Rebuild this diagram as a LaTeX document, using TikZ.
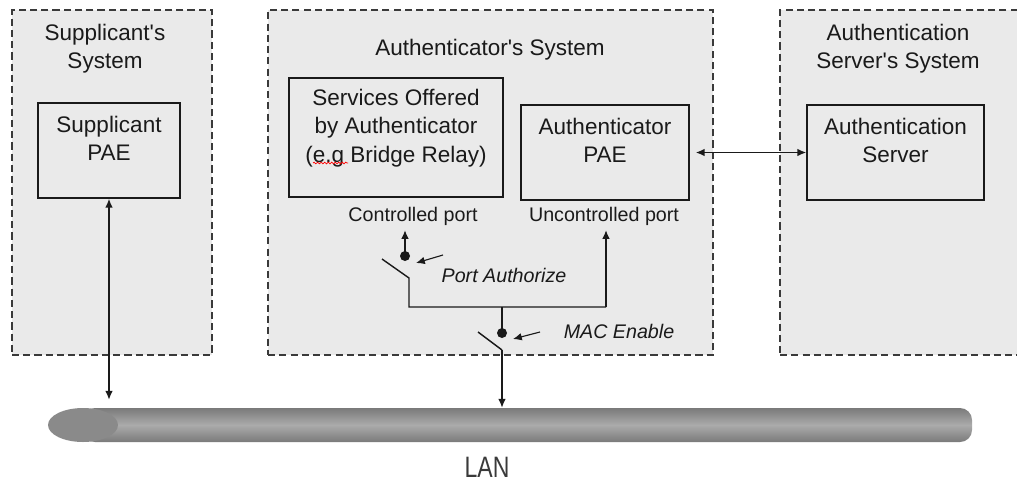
\documentclass[tikz,border=0pt]{standalone}
\usepackage{fontspec}
\setmainfont{Liberation Sans}[Ligatures=TeXOff]
\usetikzlibrary{arrows.meta,positioning,fit,decorations.pathmorphing}
\definecolor{sysfill}{HTML}{EAEAEA}
\definecolor{ink}{HTML}{1A1A1A}
\definecolor{dashgray}{HTML}{3A3A3A}
\definecolor{lanmid}{HTML}{ABABAB}
\definecolor{lanedge}{HTML}{7A7A7A}
\definecolor{lancap}{HTML}{8A8A8A}

\begin{document}
\begin{tikzpicture}[
  x=0.025cm, y=-0.025cm,
  system/.style={draw=dashgray,line width=0.8pt,dash pattern=on 5pt off 3pt,
                 fill=sysfill,inner sep=0pt},
  title/.style={align=center,font=\fontsize{16}{20}\selectfont,text=ink},
  pae/.style={draw=ink,line width=1.1pt,fill=sysfill,inner sep=0pt},
  paetext/.style={anchor=north,yshift=-0.35cm,inner sep=0pt,align=center,
                  font=\fontsize{16}{20}\selectfont,text=ink},
  port/.style={font=\fontsize{14}{17}\selectfont,text=ink},
  hint/.style={font=\itshape\fontsize{14}{17}\selectfont,text=ink},
  lanbar/.style={inner sep=0pt,rounded corners=0.3cm,
                 top color=lanedge,bottom color=lanedge,middle color=lanmid},
  wire/.style={line width=1pt,draw=ink},
  arrow/.style={-{Latex[length=2.2mm,width=1.9mm]},line width=1pt,draw=ink},
  twoway/.style={{Latex[length=2.2mm,width=1.9mm]}-{Latex[length=2.2mm,width=1.9mm]},
                 line width=1pt,draw=ink}
]
\useasboundingbox (0,0) rectangle (1017,482);

\node[system,fit={(12,10) (212,355)}] (supsys) {};
\node[system,fit={(268,10) (713,355)}] (authsys) {};
\node[system,fit={(780,10) (1030,355)}] (srvsys) {};

\node[title] (suptitle) at (105,49) {Supplicant's\\System};
\node[title] (authtitle) at (490,50) {Authenticator's System};
\node[title] (srvtitle) at (898,49) {Authentication\\Server's System};

\node[pae,fit={(38,103) (180,198)},label={[paetext]north:Supplicant\\PAE}] (spae) {};
\node[pae,fit={(289,78) (503,197)},
      label={[paetext,yshift=0.05cm]north:Services Offered\\by Authenticator\\(e.g Bridge Relay)}] (svc) {};
\node[pae,fit={(521,105) (689,200)},label={[paetext]north:Authenticator\\PAE}] (apae) {};
\node[pae,fit={(807,105) (984,200)},label={[paetext]north:Authentication\\Server}] (asrv) {};

\draw[red,line width=0.5pt,decorate,decoration={snake,amplitude=0.6pt,segment length=2.5pt}]
  (313,163) -- (348,163);

\node[port] (cport) at (413,216) {Controlled port};
\node[port] (uport) at (604,216) {Uncontrolled port};
\node[hint] (pauth) at (504,275) {Port Authorize};
\node[hint] (macen) at (619,331) {MAC Enable};

\node[lanbar,fit={(83,408) (972,442)}] (lan) {};
\fill[lancap] (83,425) ellipse [x radius=35,y radius=17];
\node[font=\fontsize{21}{24}\selectfont,text=dashgray] (lanlabel) at (487,467) {\scalebox{0.78}[1]{LAN}};

\coordinate (pa) at (405,256);
\coordinate (pa0) at (382,259);
\coordinate (pa1) at (409,278);
\coordinate (jl) at (409,307);
\coordinate (jm) at (502,307);
\coordinate (jr) at (606,307);
\coordinate (me) at (502,333);
\coordinate (me0) at (478,332);
\coordinate (me1) at (502,350);
\coordinate (patail) at (443,255);
\coordinate (pahead) at (416,263);
\coordinate (metail) at (540,332);
\coordinate (mehead) at (513,339);

\draw[arrow] (pa) -- (pa |- cport.south);
\draw[wire] (pa0) -- (pa1) -- (jl) -- (jr);
\draw[arrow] (jr) -- (jr |- uport.south);
\draw[wire] (jm) -- (me);
\draw[wire] (me0) -- (me1);
\draw[arrow] (me1) -- (me1 |- lan.north);
\fill[ink] (pa) circle[radius=5];
\fill[ink] (me) circle[radius=5];
\draw[arrow,line width=0.8pt] (patail) -- (pahead);
\draw[arrow,line width=0.8pt] (metail) -- (mehead);

\draw[twoway,shorten >=0.2cm] (spae.south) -- (spae.south |- lan.north);
\draw[twoway,shorten <=0.15cm] (apae.east) -- (asrv.west);
\end{tikzpicture}
\end{document}
